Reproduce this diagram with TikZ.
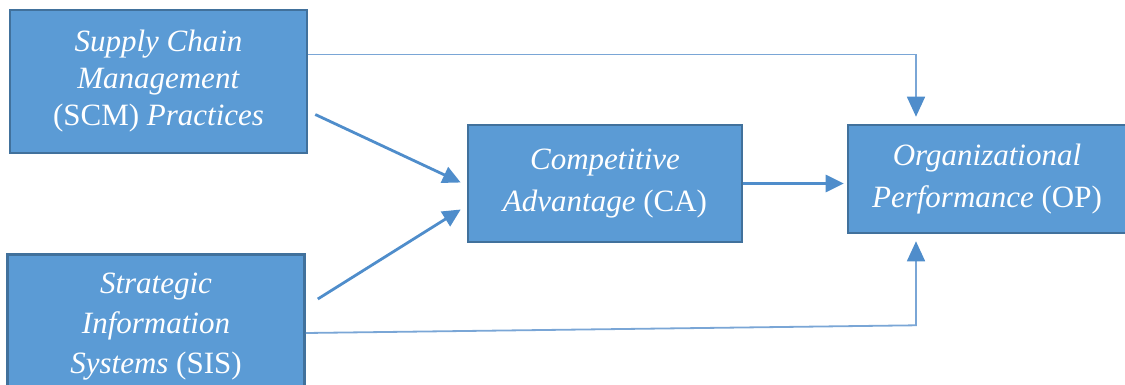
\documentclass[tikz,border=0pt]{standalone}
\usepackage{fontspec}
\setmainfont{Liberation Serif}
\usetikzlibrary{arrows.meta}
\definecolor{boxfill}{HTML}{5B9BD5}
\definecolor{boxedge}{HTML}{41719C}
\definecolor{arrowblue}{HTML}{4F8DCB}
\definecolor{thinblue}{HTML}{7AA6D6}
\begin{document}
\begin{tikzpicture}[x=0.5pt,y=-0.5pt,
  conceptbox/.style={draw=boxedge,line width=1.3pt,fill=boxfill,text=white,
    align=center,inner sep=0pt,font=\fontsize{15.5}{18.5}\selectfont},
  widelines/.style={font=\fontsize{15.5}{21}\selectfont},
  mainarrow/.style={draw=arrowblue,line width=1.4pt,
    -{Triangle[length=9pt,width=8.5pt]}},
  sidearrow/.style={draw=thinblue,line width=0.9pt,
    -{Triangle[length=10pt,width=9pt,color=arrowblue]}}]
\useasboundingbox (0,0) rectangle (1125,385);
\clip (0,0) rectangle (1125,385);

% concept boxes
\node[conceptbox,minimum width=148.5pt,minimum height=71.5pt] (scm) at (158.5,81.5)
  {\textit{Supply Chain}\\\textit{Management}\\(SCM) \textit{Practices}};
\node[conceptbox,font=\fontsize{15.5}{20}\selectfont,minimum width=148.5pt,minimum height=72.5pt] (sis) at (156,327)
  {\textit{Strategic}\\\textit{Information}\\\textit{Systems} (SIS)};
\node[conceptbox,widelines,minimum width=137pt,minimum height=58.5pt] (ca) at (605,183.5)
  {\textit{Competitive}\\\textit{Advantage} (CA)};
\node[conceptbox,widelines,minimum width=139pt,minimum height=54pt] (op) at (987,179)
  {\textit{Organizational}\\\textit{Performance} (OP)};

% direct paths to performance
\coordinate (opin) at ([xshift=-35.5pt,yshift=3.5pt]op.north);
\coordinate (opbot) at ([xshift=-35.5pt,yshift=-3.5pt]op.south);
\coordinate (bend) at ([yshift=-42pt]opbot);
\draw[sidearrow] ([yshift=13.5pt]scm.east) -| (opin);
\draw[sidearrow] ([yshift=-3pt]sis.east) -- (bend) -- (opbot);

% mediated paths through competitive advantage
\draw[mainarrow] ([xshift=3.5pt,yshift=-16.5pt]scm.east) -- ([xshift=-3pt,yshift=0.5pt]ca.west);
\draw[mainarrow] ([xshift=6pt,yshift=14pt]sis.east) -- ([xshift=-3pt,yshift=-13pt]ca.west);
\draw[mainarrow] (ca.east) -- ([xshift=-1.5pt]ca.east -| op.west);
\end{tikzpicture}
\end{document}
